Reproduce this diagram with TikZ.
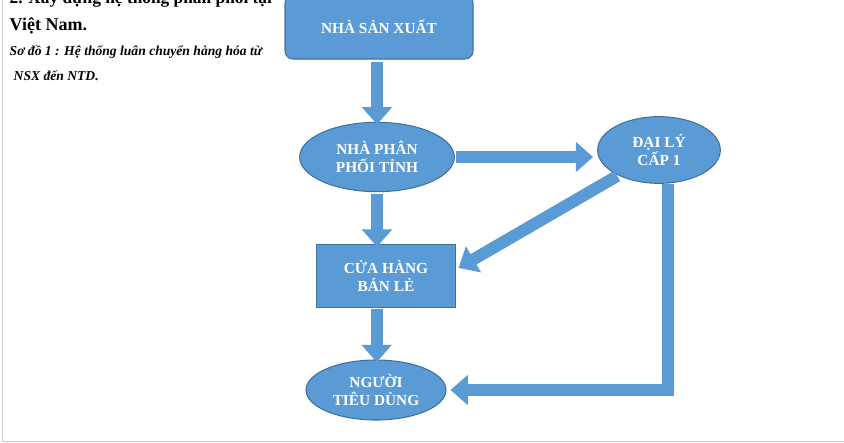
\documentclass[tikz,border=0pt]{standalone}
\usepackage{fontspec}
\setmainfont{Liberation Serif}
\usetikzlibrary{arrows.meta,shapes.geometric}
\definecolor{boxblue}{HTML}{5B9BD5}
\definecolor{edgeblue}{HTML}{41719C}

\begin{document}
\begin{tikzpicture}[x=0.75pt,y=-0.75pt,
    stage/.style={fill=boxblue,draw=edgeblue,line width=0.8pt,text=white,
                  font=\bfseries\fontsize{11.5}{13.5}\selectfont,align=center,inner sep=0pt},
    oval/.style={stage,ellipse},
    flow/.style={draw=boxblue,line width=9pt,
                 -{Triangle[width=22pt,length=13pt]}}
  ]
  \useasboundingbox (0,0) rectangle (844,443);
  \draw[gray!40] (2,-5) -- (2,441) -- (850,441);

  % caption on the left
  \node[anchor=west,font=\bfseries\fontsize{13}{15}\selectfont] (title) at (5,-1) {2. Xây dựng hệ thống phân phối tại};
  \node[anchor=west,font=\bfseries\fontsize{13.5}{16}\selectfont] (title2) at (5,26) {Việt Nam.};
  \node[anchor=west,font=\bfseries\itshape\fontsize{10.2}{12}\selectfont] (cap) at (5,52) {Sơ đồ 1 : Hệ thống luân chuyển hàng hóa từ};
  \node[anchor=west,font=\bfseries\itshape\fontsize{10.2}{12}\selectfont] (cap2) at (9,76) {NSX đến NTD.};

  % stages
  \node[stage,rounded corners=6pt,minimum width=141pt,minimum height=48pt] (nsx) at (379,27) {NHÀ SẢN XUẤT};
  \node[oval,minimum width=116pt,minimum height=52pt] (npp) at (377,157) {NHÀ PHÂN\\PHỐI TỈNH};
  \node[oval,minimum width=92pt,minimum height=50pt] (dl) at (659,150) {ĐẠI LÝ\\CẤP 1};
  \node[stage,minimum width=104pt,minimum height=47pt] (ch) at (386,276) {CỬA HÀNG\\BÁN LẺ};
  \node[oval,minimum width=105pt,minimum height=45pt] (ntd) at (376,390) {NGƯỜI\\TIÊU DÙNG};

  % arrows
  \draw[flow] ([xshift=-1.5pt,yshift=-2pt]nsx.south) -- ([xshift=-1.5pt,yshift=-2pt]nsx.south |- npp.north);
  \draw[flow] ([xshift=1pt]npp.east) -- ([xshift=-3pt]dl.west |- npp.east);
  \draw[flow] ([yshift=-1pt]npp.south) -- ([yshift=-2pt]npp.south |- ch.north);
  \draw[flow] (dl.south west) ++(2,2) -- ([xshift=2pt,yshift=6pt]ch.east);
  \draw[flow] ([xshift=-7pt,yshift=-1pt]ch.south) -- ([xshift=-7pt,yshift=-2pt]ch.south |- ntd.north);
  \draw[flow,-] ([xshift=7pt]dl.south) -- ([xshift=7pt]dl.south |- ntd.east);
  \draw[flow] ([xshift=11.5pt]dl.south |- ntd.east) -- ([xshift=3pt]ntd.east);
\end{tikzpicture}
\end{document}
